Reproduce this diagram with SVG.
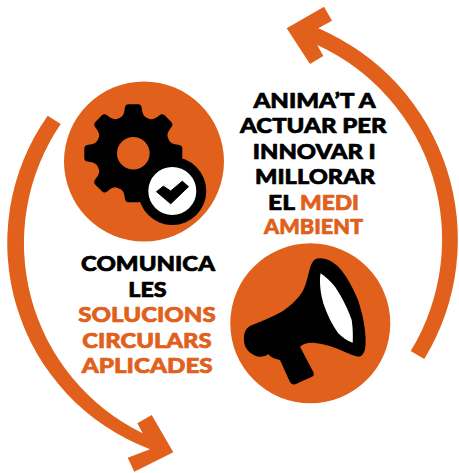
<svg xmlns="http://www.w3.org/2000/svg" width="459" height="473" viewBox="0 0 459 473">
<style>
.o{fill:#e0601c}
.k{fill:#000}
.w{fill:#fff}
text{font-family:"Lato","Liberation Sans",sans-serif;font-weight:900;font-size:21.5px;text-anchor:middle;stroke-width:.7px;stroke-linejoin:round}
.tk{fill:#000;stroke:#000}
.to{fill:#e0601c;stroke:#e0601c}
</style>
<rect width="459" height="473" fill="#fff"/>
<g id="connectors">
<path class="o" d="M318.300 28.300 A229.600 229.600 0 0 1 424.300 359 L410.700 351 A213.900 213.900 0 0 0 317.300 45 L323.300 56 L310 64 L286.700 28.300 L324 6.700 L332 20.700 Z"/>
<path class="o" d="M60.700 124 A211.600 211.600 0 0 0 142.700 433.300 L137.300 423.300 L151.700 415 L173.300 452.300 L134.300 471.700 L127.700 457.700 L150 449.300 A220.500 220.500 0 0 1 47.700 115.700 Z"/>
</g>
<g id="gears">
<circle class="o" cx="144" cy="161.500" r="80"/>
<g transform="translate(133.300 153.300)">
<circle class="k" r="38"/>
<g class="k">
<path id="t" d="M-14 -35 Q-9 -37 -8.500 -45 Q-8 -49 -5 -49 L5 -49 Q8 -49 8.500 -45 Q9 -37 14 -35 Z"/>
<use href="#t" transform="rotate(45)"/><use href="#t" transform="rotate(90)"/><use href="#t" transform="rotate(135)"/><use href="#t" transform="rotate(180)"/><use href="#t" transform="rotate(225)"/><use href="#t" transform="rotate(270)"/><use href="#t" transform="rotate(315)"/>
</g>
<circle class="o" r="16.300"/>
</g>
<circle class="k" cx="172.300" cy="191" r="34"/>
<circle class="w" cx="172.300" cy="191" r="24"/>
<path class="k" stroke="#000" stroke-width="1" stroke-linejoin="round" d="M156.500 191.700 L163.300 186.200 L170.700 191 L182.300 181.200 L188.500 186.700 L170.700 203.800 Z"/>
</g>
<g id="megaphone">
<circle class="o" cx="310.300" cy="323.300" r="80"/>
<path class="k" d="M319.300 258.300 C327 258 333 262 338.300 266.700 C347 276 353 288 358 300 C362 312 365 325 365.500 336.700 C366 348 365 353 361 356 C357 358 351 354 345 352 C335 347 325 344 313.300 342.700 C307 342.500 303 344 300 346.700 L313.300 372 C314.500 375 313.500 376 312 376.700 L297 383.500 C293 385.500 291 384 289.500 381 L280 360 C275 359 270 357 268.300 354 C265 357 258 358 254 355 C248 352 244 347 244 340 C243.500 333 246 328 251 325.500 C262 321 272 317 281.700 311.700 C292 305 299 298 303.300 290 C307 282 308 275 310 268.300 C312 261 315 258.500 319.300 258.300 Z"/>
<path class="w" d="M320.700 273.300 C326 277 331 282 335 286.700 C342 297 348 309 351.700 320 C353 329 353 336 352.700 342.700 C347 341 342 337 338.300 333.300 C332 325 327 314 323.300 303.300 C321 295 320 288 320 281.700 C320 278 320 275 320.700 273.300 Z"/>
</g>
<g id="label-right">
<text class="tk" x="314.500" y="108.300" textLength="122" lengthAdjust="spacingAndGlyphs">ANIMA’T A</text>
<text class="tk" x="313.300" y="132.700" textLength="146.500" lengthAdjust="spacingAndGlyphs">ACTUAR PER</text>
<text class="tk" x="314.300" y="159" textLength="123" lengthAdjust="spacingAndGlyphs">INNOVAR I</text>
<text class="tk" x="315" y="184.300" textLength="120" lengthAdjust="spacingAndGlyphs">MILLORAR</text>
<text class="tk" x="268" y="210.300" style="text-anchor:start" textLength="27" lengthAdjust="spacingAndGlyphs">EL</text>
<text class="to" x="300" y="210.300" style="text-anchor:start" textLength="59" lengthAdjust="spacingAndGlyphs">MEDI</text>
<text class="to" x="313.500" y="234.300" textLength="99" lengthAdjust="spacingAndGlyphs">AMBIENT</text>
</g>
<g id="label-left">
<text class="tk" x="148" y="271" textLength="134" lengthAdjust="spacingAndGlyphs">COMUNICA</text>
<text class="tk" x="147.500" y="296.700" textLength="38.400" lengthAdjust="spacingAndGlyphs">LES</text>
<text class="to" x="147" y="322.300" textLength="137.400" lengthAdjust="spacingAndGlyphs">SOLUCIONS</text>
<text class="to" x="147" y="347.700" textLength="129.400" lengthAdjust="spacingAndGlyphs">CIRCULARS</text>
<text class="to" x="147.200" y="373.300" textLength="131" lengthAdjust="spacingAndGlyphs">APLICADES</text>
</g>
</svg>
